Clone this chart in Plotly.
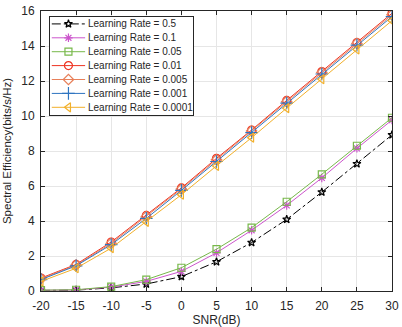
import plotly.graph_objects as go

snr = [-20, -15, -10, -5, 0, 5, 10, 15, 20, 25, 30]
labels = ["Learning Rate = 0.5", "Learning Rate = 0.1", "Learning Rate = 0.05",
          "Learning Rate = 0.01", "Learning Rate = 0.005", "Learning Rate = 0.001",
          "Learning Rate = 0.0001"]
lr_05 = [0.03, 0.05, 0.18, 0.40, 0.82, 1.67, 2.77, 4.09, 5.65, 7.27, 8.92]
lr_01 = [0.04, 0.06, 0.22, 0.55, 1.12, 2.18, 3.47, 4.89, 6.46, 8.15, 9.77]
lr_005 = [0.05, 0.07, 0.25, 0.65, 1.33, 2.39, 3.62, 5.10, 6.67, 8.30, 9.90]
lr_001 = [0.74, 1.52, 2.80, 4.32, 5.89, 7.58, 9.20, 10.89, 12.54, 14.20, 15.87]
lr_0005 = [0.70, 1.48, 2.72, 4.25, 5.83, 7.50, 9.15, 10.82, 12.48, 14.15, 15.78]
lr_0001 = [0.65, 1.44, 2.65, 4.15, 5.75, 7.40, 9.05, 10.74, 12.40, 14.05, 15.68]
lr_00001 = [0.55, 1.30, 2.45, 3.95, 5.50, 7.15, 8.76, 10.45, 12.10, 13.80, 15.45]

series = [lr_05, lr_01, lr_005, lr_001, lr_0005, lr_0001, lr_00001]
colors = ["#000000", "#CC55CC", "#77B84A", "#EE3322", "#E8805A", "#2E74C0", "#F2B02A"]
symbols = ["star-open", "asterisk-open", "square-open", "circle-open",
           "diamond-open", "cross-thin-open", "triangle-left-open"]
dashes = ["dashdot", "solid", "solid", "solid", "solid", "solid", "solid"]
sizes = [6, 7, 7, 8, 8, 9, 8]

fig = go.Figure()
for s, c, m, d, sz, lab in zip(series, colors, symbols, dashes, sizes, labels):
    fig.add_trace(go.Scatter(
        x=snr, y=s, mode="lines+markers", name=lab, showlegend=False,
        line=dict(color=c, width=1, dash=d),
        marker=dict(symbol=m, size=sz, color=c, line=dict(color=c, width=1.2)),
        xaxis="x", yaxis="y"))

# custom legend (inset subplot in pixel-like units)
row_y = [24, 38, 52, 66, 80, 94, 108]
for k, (c, m, d, sz, lab) in enumerate(zip(colors, symbols, dashes, sizes, labels)):
    fig.add_trace(go.Scatter(
        x=[52, 86], y=[row_y[k], row_y[k]], mode="lines", showlegend=False,
        line=dict(color=c, width=1, dash=d), xaxis="x2", yaxis="y2", hoverinfo="skip"))
    fig.add_trace(go.Scatter(
        x=[69], y=[row_y[k]], mode="markers", showlegend=False,
        marker=dict(symbol=m, size=sz, color=c, line=dict(color=c, width=1.2)),
        xaxis="x2", yaxis="y2", hoverinfo="skip"))
    fig.add_annotation(x=87, y=row_y[k], xref="x2", yref="y2", text=lab,
                       showarrow=False, xanchor="left", yanchor="middle",
                       font=dict(size=10, color="#262626"))

W, H = 402, 327
l, r, t, b = 41, 3, 11, 34
pw, ph = W - l - r, H - t - b
lx0, lx1, ly0, ly1 = 50, 196, 17, 116
dom_x = [(lx0 - l) / pw, (lx1 - l) / pw]
dom_y = [(H - b - ly1) / ph, (H - b - ly0) / ph]

fam = "Liberation Sans, Arial, sans-serif"
axis_font = dict(family=fam, size=12, color="#262626")
ytitle_font = dict(family=fam, size=11.5, color="#262626")
fig.update_layout(
    width=W, height=H,
    margin=dict(l=l, r=r, t=t, b=b, pad=0),
    paper_bgcolor="white", plot_bgcolor="white",
    font=dict(family=fam, size=12, color="#262626"),
    xaxis=dict(range=[-20, 30], tickvals=snr, ticktext=[str(v) for v in snr],
               showgrid=True, gridcolor="#E6E6E6", gridwidth=1,
               showline=True, linecolor="#262626", linewidth=1, mirror="ticks",
               ticks="inside", ticklen=4, tickcolor="#262626",
               zeroline=False, tickfont=axis_font, ticklabelstandoff=4,
               ticklabeloverflow="allow",
               title=dict(text="SNR(dB)", font=axis_font, standoff=2)),
    yaxis=dict(range=[0, 16], dtick=2,
               showgrid=True, gridcolor="#E6E6E6", gridwidth=1,
               showline=True, linecolor="#262626", linewidth=1, mirror="ticks",
               ticks="inside", ticklen=4, tickcolor="#262626",
               zeroline=False, tickfont=axis_font, ticklabelstandoff=3,
               title=dict(text="Spectral Efficiency(bits/s/Hz)", font=ytitle_font, standoff=7)),
    xaxis2=dict(domain=dom_x, range=[lx0, lx1], anchor="y2", showgrid=False,
                showticklabels=False, ticks="", zeroline=False,
                showline=True, linecolor="#262626", linewidth=1, mirror=True, fixedrange=True),
    yaxis2=dict(domain=dom_y, range=[ly1, ly0], anchor="x2", showgrid=False,
                showticklabels=False, ticks="", zeroline=False,
                showline=True, linecolor="#262626", linewidth=1, mirror=True, fixedrange=True),
    showlegend=False,
)

fig.write_html("out.html")
